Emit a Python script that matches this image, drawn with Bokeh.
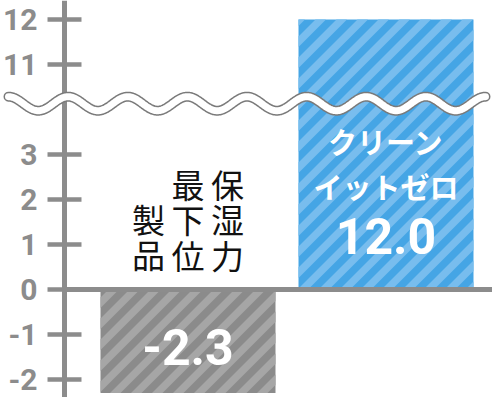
import math
import numpy as np
from bokeh.plotting import figure
from bokeh.models import Range1d, LinearAxis, FixedTicker, Grid
from bokeh.core.properties import value
from bokeh.embed import file_html
from bokeh.resources import INLINE

# ---------------- data ----------------
categories = ["保湿力最下位製品", "クリーンイットゼロ"]
values = [-2.3, 12.0]
name_columns = ["保湿力", "最下位", "製品"]      # vertical columns (right to left) of category 0
blue_lines = ["クリーン", "イットゼロ"]           # name of category 1, two lines
tick_values = [-2, -1, 0, 1, 2, 3, 11, 12]

# ---------------- broken axis transform ----------------
BREAK_AT = 4.0
BREAK_SHIFT = 6.0


def disp(v):
    return v if v <= BREAK_AT else v - BREAK_SHIFT


# ---------------- style / layout ----------------
W, H = 492, 397
X0, X1 = -0.4470, 2.0379
Y0, Y1 = -2.4, 6.4222
AXIS_X = -0.1237
BAR_W = 0.8838
GRAY = "#8c8c8c"
bar_fill = ["#8b8b8b", "#45a5e5"]
bar_stripe = ["#a6a6a6", "#78bdee"]
STRIPE_PERIOD = 21.0   # px, horizontal
STRIPE_WIDTH = 10.5    # px, horizontal

p = figure(width=W, height=H, x_range=Range1d(X0, X1), y_range=Range1d(Y0, Y1),
           toolbar_location=None, output_backend="svg",
           x_axis_location=None, y_axis_location=None,
           min_border=0, min_border_left=0, min_border_right=0,
           min_border_top=0, min_border_bottom=0)
p.outline_line_color = None
p.background_fill_color = "white"
p.border_fill_color = "white"
for g in p.select(type=Grid):
    g.visible = False
p.center = [c for c in p.center if not isinstance(c, Grid)]

xc = [i + 0.5 for i in range(len(categories))]
tops = [disp(v) for v in values]

p.vbar(x=xc, top=tops, bottom=0, width=BAR_W, fill_color=bar_fill, line_color=None)

# ---- 45 degree stripes inside each bar (computed from the bar extents) ----
sx = W / (X1 - X0)
sy = H / (Y1 - Y0)


def clip(poly, f):
    out = []
    n = len(poly)
    for i in range(n):
        P, Q = poly[i], poly[(i + 1) % n]
        fp, fq = f(P), f(Q)
        if fp >= 0:
            out.append(P)
        if (fp >= 0) != (fq >= 0):
            t = fp / (fp - fq)
            out.append((P[0] + t * (Q[0] - P[0]), P[1] + t * (Q[1] - P[1])))
    return out


sxs, sys_, scol = [], [], []
for cx, top, col in zip(xc, tops, bar_stripe):
    lo, hi = min(0.0, top), max(0.0, top)
    uL, uR = (cx - BAR_W / 2 - X0) * sx, (cx + BAR_W / 2 - X0) * sx
    vB, vT = (lo - Y0) * sy, (hi - Y0) * sy
    rect = [(uL, vB), (uR, vB), (uR, vT), (uL, vT)]
    cmin, cmax = uL - vT, uR - vB
    for k in range(int(math.floor(cmin / STRIPE_PERIOD)) - 1, int(math.ceil(cmax / STRIPE_PERIOD)) + 1):
        a = k * STRIPE_PERIOD
        b = a + STRIPE_WIDTH
        poly = clip(rect, lambda q, a=a: (q[0] - q[1]) - a)
        if len(poly) >= 3:
            poly = clip(poly, lambda q, b=b: b - (q[0] - q[1]))
        if len(poly) >= 3:
            sxs.append([q[0] / sx + X0 for q in poly])
            sys_.append([q[1] / sy + Y0 for q in poly])
            scol.append(col)
p.patches(sxs, sys_, fill_color=scol, line_color=None)

# zero line from the axis to the right edge
p.segment(x0=[AXIS_X], y0=[0], x1=[X1], y1=[0], line_width=5, line_color=GRAY)

# y axis (broken) drawn at fixed location
yaxis = LinearAxis(fixed_location=AXIS_X,
                   ticker=FixedTicker(ticks=[float(disp(t)) for t in tick_values], minor_ticks=[]),
                   major_label_overrides={float(disp(t)): str(t) for t in tick_values})
yaxis.axis_line_color = GRAY
yaxis.axis_line_width = 5
yaxis.major_tick_line_color = GRAY
yaxis.major_tick_line_width = 4.5
yaxis.major_tick_in = 17
yaxis.major_tick_out = 17
yaxis.minor_tick_in = 0
yaxis.minor_tick_out = 0
yaxis.major_label_standoff = 10
yaxis.major_label_text_font = "Roboto"
yaxis.major_label_text_font_style = "bold"
yaxis.major_label_text_font_size = "30px"
yaxis.major_label_text_color = GRAY
p.add_layout(yaxis, "left")

# break wave (decoration), drawn above the axis
wx0, wx1 = -0.4066, 2.0025
WAVE_MID, WAVE_AMP, WAVE_N = 4.129, 0.156, 8
wx = np.linspace(wx0, wx1, 600)
wy = WAVE_MID + WAVE_AMP * np.cos(2 * np.pi * WAVE_N * (wx - wx0) / (wx1 - wx0))
p.line(wx, wy, line_width=10, line_color="#7a7a7a", line_cap="round", level="overlay")
p.line(wx, wy, line_width=7, line_color="white", line_cap="round", level="overlay")

# value labels inside bars
p.text(x=[xc[0]], y=[values[0] / 2 - 0.117], text=[f"{values[0]:.1f}"],
       text_font=value("Roboto"), text_font_style="bold", text_font_size="50px",
       text_color="white", text_align="center", text_baseline="middle")
p.text(x=[xc[1]], y=[1.178], text=[f"{values[1]:.1f}"],
       text_font=value("Roboto"), text_font_style="bold", text_font_size="50px",
       text_color="white", text_align="center", text_baseline="middle")

# category name of the blue bar
p.text(x=[xc[1], xc[1]], y=[3.30, 2.289], text=blue_lines,
       text_font=value("Noto Sans CJK JP"), text_font_style="bold", text_font_size="29px",
       text_color="white", text_align="center", text_baseline="middle")

# category name of the gray bar, vertical columns right to left
COL_STEP = 0.2
col_x = [xc[0] + COL_STEP, xc[0], xc[0] - COL_STEP]
col_y = [1.556, 1.556, 1.178]
p.text(x=col_x, y=col_y, text=["\n".join(c) for c in name_columns],
       text_font=value("Noto Sans CJK JP"), text_font_size="33px",
       text_line_height=0.74, text_color="#111111",
       text_align="center", text_baseline="middle")

open("out.html", "w").write(file_html(p, INLINE))
